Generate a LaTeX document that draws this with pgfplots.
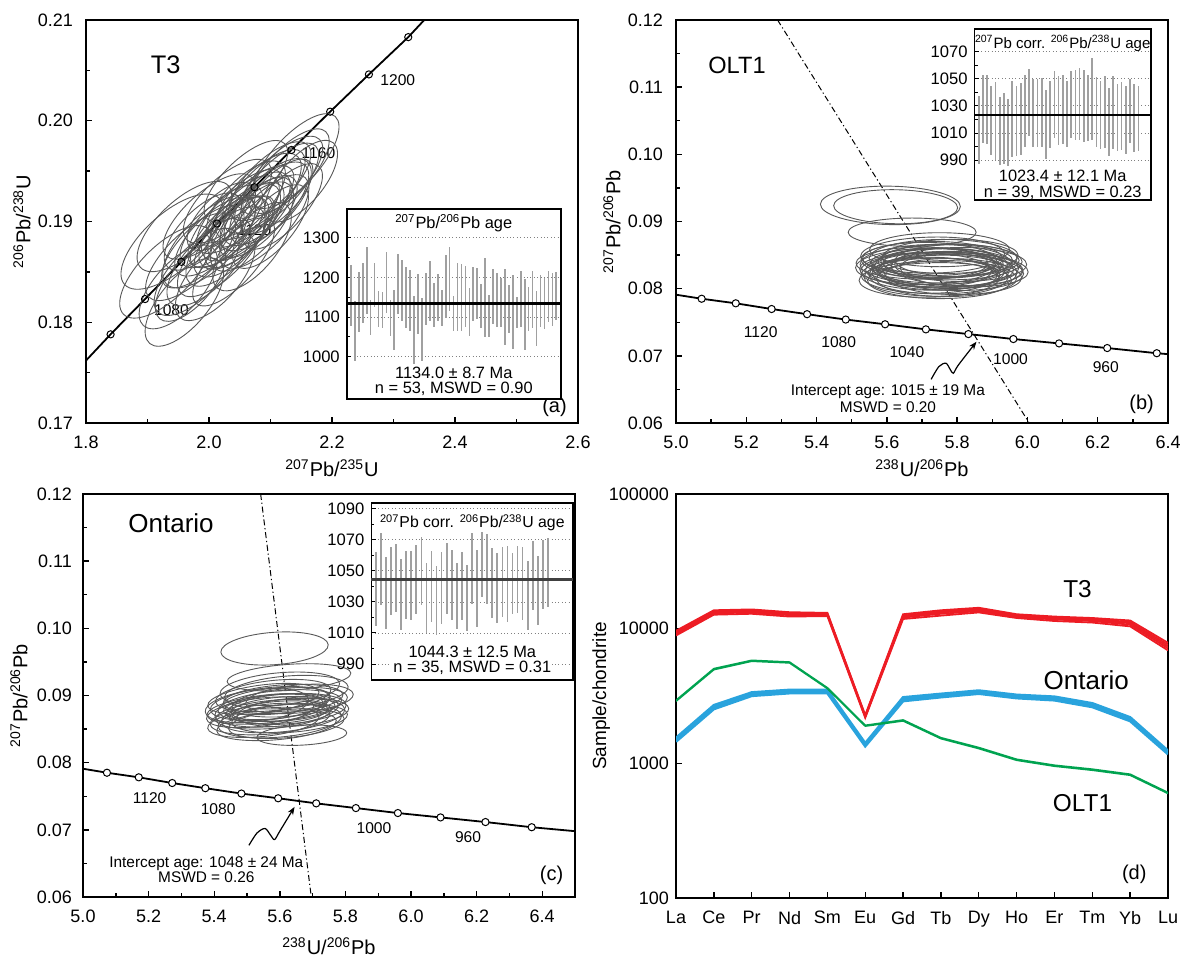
\documentclass[border=0pt]{standalone}
\usepackage{fontspec}
\setmainfont{Liberation Sans}
\usepackage{pgfplots}
\usepackage{pgfplotstable}
\pgfplotsset{compat=1.18}
\usetikzlibrary{arrows.meta}
\newcommand{\fs}[1]{\fontsize{#1}{#1}\selectfont}
\definecolor{ellg}{RGB}{88,88,88}
\definecolor{barg}{RGB}{160,160,160}
\definecolor{reeR}{RGB}{237,28,36}
\definecolor{reeB}{RGB}{41,163,221}
\definecolor{reeG}{RGB}{0,163,80}

\pgfdeclareplotmark{ell}{%
  \pgfpathellipse{\pgfpointorigin}%
    {\pgfpoint{\ellA*cos(\ellT)*1pt}{\ellA*sin(\ellT)*1pt}}%
    {\pgfpoint{-\ellB*sin(\ellT)*1pt}{\ellB*cos(\ellT)*1pt}}%
  \pgfusepathqstroke}

% ---------- ellipses (centre, semi-axes in pt, screen angle) ----------
\pgfplotstableread{
x y a b t
1.93 0.1850 30 13 45
1.95 0.1835 26 12 48
1.96 0.1820 27 12 50
1.97 0.1865 29 12 44
1.98 0.1850 28 12 46
1.99 0.1875 27 11 45
2.00 0.1860 28 12 47
2.01 0.1885 26 11 44
2.02 0.1870 29 12 46
2.02 0.1895 27 11 45
2.03 0.1880 28 12 48
2.04 0.1900 30 12 45
2.04 0.1885 26 11 46
2.05 0.1910 28 11 44
2.05 0.1895 27 12 47
2.06 0.1905 29 12 45
2.06 0.1920 26 11 46
2.07 0.1895 28 12 48
2.07 0.1915 27 11 44
2.08 0.1925 28 12 45
2.08 0.1905 26 11 47
2.09 0.1930 27 11 46
2.09 0.1915 29 12 45
2.10 0.1940 26 11 44
2.10 0.1920 27 12 47
2.11 0.1935 28 11 46
2.12 0.1945 26 11 45
2.13 0.1950 27 11 47
2.14 0.1960 30 12 48
1.94 0.1880 32 14 42
1.96 0.1895 30 13 43
2.00 0.1905 29 12 42
2.03 0.1920 28 12 43
2.06 0.1940 27 11 44
2.01 0.1845 27 12 49
2.04 0.1860 28 11 48
2.07 0.1875 27 12 50
2.10 0.1895 26 11 49
2.12 0.1915 27 11 48
2.02 0.1905 22 10 45
2.05 0.1890 23 10 46
2.08 0.1910 22 10 45
2.03 0.1890 24 10 44
2.06 0.1900 25 11 46
1.99 0.1890 25 11 45
2.11 0.1925 24 10 46
1.97 0.1840 24 11 50
2.15 0.1940 25 11 50
2.00 0.1880 30 13 45
2.09 0.1900 30 12 47
}\ellTa

\pgfplotstableread{
x y a b t
5.610 0.0924 35 9.6 -1
5.625 0.0922 31 8.5 -1
5.672 0.0884 32 7.1 0
5.75 0.0858 35 8.5 0
5.73 0.0850 36 9 1
5.76 0.0845 37 9.5 0
5.72 0.0842 34 9 -1
5.78 0.0840 36 9 0
5.74 0.0836 38 10 0
5.71 0.0833 35 9 1
5.77 0.0832 36 9.5 -1
5.75 0.0828 37 9 0
5.80 0.0830 33 8.5 -2
5.73 0.0826 36 9.5 0
5.76 0.0822 37 10 1
5.72 0.0820 34 9 0
5.79 0.0824 35 9 -1
5.74 0.0817 36 9.5 0
5.77 0.0815 35 9 0
5.71 0.0828 33 8.5 -1
5.81 0.0836 33 8.5 0
5.75 0.0812 36 9 0
5.78 0.0848 34 8.5 1
5.70 0.0838 33 8 0
5.76 0.0838 30 7.5 0
5.74 0.0830 32 8 0
5.79 0.0818 34 9 -1
5.73 0.0845 35 8.5 0
5.82 0.0828 32 8.5 -2
5.72 0.0814 35 9 1
5.77 0.0842 33 8 0
5.75 0.0834 34 8.5 1
5.78 0.0827 36 9 0
5.73 0.0838 31 7.5 0
5.76 0.0826 33 8 0
5.74 0.0822 32 8 -1
5.80 0.0842 31 8 0
}\ellOLT

\pgfplotstableread{
x y a b t
5.584 0.0970 26.9 8.1 4
5.628 0.0927 31 6.5 4
5.60 0.0910 30 8 5
5.58 0.0900 29 7.5 6
5.62 0.0905 31 8 5
5.55 0.0895 28 7 7
5.61 0.0895 30 7 4
5.57 0.0888 30 8 6
5.60 0.0885 31 7.5 5
5.63 0.0890 29 7 5
5.56 0.0880 30 7 6
5.59 0.0878 31 8 5
5.62 0.0880 30 7.5 4
5.58 0.0872 29 7 5
5.61 0.0870 31 8 6
5.54 0.0875 27 7 7
5.64 0.0875 28 7 4
5.57 0.0865 30 7.5 5
5.60 0.0862 31 8 5
5.63 0.0866 29 7 4
5.55 0.0860 28 7 6
5.59 0.0855 30 7 5
5.62 0.0858 29 7 5
5.58 0.0883 25 6 5
5.60 0.0875 24 5.5 4
5.667 0.0841 22.5 5 3
5.53 0.0885 26 8 7
5.66 0.0895 27 7 5
5.59 0.0892 27 6.5 5
5.61 0.0880 26 6 4
}\ellOnt

% ---------- Tera-Wasserburg concordia ----------
\pgfplotstableread{
x y
5.073 0.07850
5.170 0.07782
5.272 0.07697
5.373 0.07620
5.483 0.07540
5.595 0.07470
5.711 0.07394
5.832 0.07324
5.960 0.07250
6.090 0.07185
6.227 0.07116
6.368 0.07039
}\concTW

% ---------- weighted-mean bars ----------
\pgfplotstableread{
x lo hi
1 1078 1231
2 990 1141
3 1061 1214
4 1084 1237
5 1107 1277
6 1054 1143
7 1126 1237
8 1074 1166
9 1072 1163
10 1111 1264
11 1053 1142
12 1017 1169
13 1107 1258
14 1089 1243
15 1072 1226
16 1064 1218
17 981 1154
18 1057 1209
19 990 1147
20 1080 1211
21 1089 1241
22 1074 1186
23 1090 1208
24 1078 1169
25 1097 1256
26 1114 1277
27 1064 1154
28 1064 1235
29 1064 1233
30 1074 1228
31 1053 1173
32 1090 1225
33 1094 1223
34 1072 1183
35 1049 1249
36 1050 1156
37 1082 1220
38 1074 1211
39 1074 1199
40 1030 1222
41 1060 1180
42 1020 1206
43 1072 1150
44 1075 1215
45 1018 1196
46 1066 1176
47 1072 1217
48 1026 1165
49 1075 1205
50 1070 1199
51 1088 1217
52 1078 1210
53 1092 1214
}\barsA

\pgfplotstableread{
x lo hi
1 987 1037
2 1003 1053
3 1002 1053
4 994 1044.5
5 990 1047.5
6 986.6 1036.6
7 987 1039.6
8 985.6 1035
9 992 1048.7
10 993 1044.5
11 994 1047
12 1000 1053
13 1008 1057
14 1000 1050
15 999.5 1049.5
16 999.5 1050.7
17 991 1041.5
18 998.7 1048
19 1006 1056
20 1001.4 1051.7
21 1002 1052.7
22 999.5 1048.7
23 1006 1056
24 1005 1056.6
25 1005 1057.6
26 1003.7 1056.4
27 1004.4 1052.7
28 1005 1065
29 1000 1051
30 998 1048
31 998.7 1052
32 993 1043.5
33 998 1052
34 996.7 1046.5
35 997.5 1047.7
36 994.5 1044.5
37 1002.4 1050
38 995.7 1046.5
39 997 1045
}\barsB

\pgfplotstableread{
x lo hi
1 1014.8 1061.9
2 1027.8 1074.2
3 1012.7 1058.7
4 1021.8 1065.6
5 1023.5 1067.1
6 1012.2 1057.4
7 1018.7 1063
8 1018.1 1062.8
9 1022.4 1066.7
10 1027.8 1072.1
11 1010.1 1054.8
12 1017.4 1062.8
13 1008.4 1053.3
14 1015.9 1061.9
15 1022.4 1068.2
16 1018.5 1063.4
17 1012.7 1055.4
18 1018.1 1062.4
19 1011.6 1053.7
20 1028.9 1074.2
21 1013.8 1063.4
22 1033.2 1080
23 1028.9 1073.8
24 1019.5 1064.8
25 1016.3 1061.6
26 1020.6 1065.4
27 1017.4 1066.3
28 1022.3 1061.6
29 1022.8 1065.9
30 1018.4 1065.4
31 1012 1056.2
32 1024.9 1069.5
33 1015.2 1059.8
34 1025.3 1069.7
35 1027 1071.2
}\barsC

\pgfplotsset{
  mainax/.style={
    scale only axis, width=246pt, height=201.5pt, anchor=south west,
    axis line style={line width=1.1pt},
    tick align=inside, xtick pos=bottom, ytick pos=left,
    tick style={black, line width=0.7pt},
    major tick length=3.2pt, minor tick length=2pt,
    minor tick num=1, scaled ticks=false,
    tick label style={font=\fs{9}},
    /pgf/number format/assume math mode=true,
    xticklabel style={yshift=-3pt},
    every axis x label/.style={at={(axis description cs:0.5,-0.112)}, anchor=center, font=\fs{10}},
    every axis y label/.style={at={(axis description cs:-0.13,0.5)}, rotate=90, anchor=center, font=\fs{10}},
  },
  xfmt1/.style={x tick label style={/pgf/number format/fixed, /pgf/number format/fixed zerofill, /pgf/number format/precision=1}},
  yfmt2/.style={y tick label style={/pgf/number format/fixed, /pgf/number format/fixed zerofill, /pgf/number format/precision=2}},
  inax/.style={
    scale only axis, anchor=south west, clip=false,
    axis background/.style={fill=white},
    axis line style={line width=0.8pt},
    xtick=\empty, ytick pos=left, tick align=inside,
    tick style={black, line width=0.5pt},
    major tick length=2.2pt, minor tick length=1.5pt, minor y tick num=1,
    ymajorgrids, major grid style={gray, line width=0.45pt, dash pattern=on 0.5pt off 1.2pt},
    tick label style={font=\fs{8.3}},
    /pgf/number format/assume math mode=true, /pgf/number format/1000 sep={},
  },
  ellstyle/.style={scatter, only marks, mark=ell, color=ellg,
    mark options={line width=0.45pt, solid},
    scatter/@pre marker code/.code={}, scatter/@post marker code/.code={},
    visualization depends on={\thisrow{a}\as\ellA},
    visualization depends on={\thisrow{b}\as\ellB},
    visualization depends on={\thisrow{t}\as\ellT}},
  bars/.style={mark=none, draw=none, forget plot,
    error bars/y dir=both, error bars/y explicit, error bars/error mark=none,
    error bars/error bar style={draw=barg, line width=0.85pt, solid}},
  conc/.style={black, line width=0.9pt},
  concmk/.style={only marks, mark=*, mark size=1.8pt, mark options={fill=white, draw=black, line width=0.5pt}},
  disc/.style={black, line width=0.5pt, dash pattern=on 3pt off 1.4pt on 0.6pt off 1.4pt},
}

\begin{document}
\begin{tikzpicture}
% ================= (a) =================
\begin{axis}[mainax, xfmt1, yfmt2, at={(43pt,268pt)},
  xmin=1.8, xmax=2.6, ymin=0.17, ymax=0.21,
  xtick={1.8,2.0,2.2,2.4,2.6}, ytick={0.17,0.18,0.19,0.20,0.21},
  yticklabel style={xshift=-3pt},
  xlabel={\textsuperscript{207}Pb/\textsuperscript{235}U},
  ylabel={\textsuperscript{206}Pb/\textsuperscript{238}U}]
\addplot[ellstyle] table[x=x, y=y] {\ellTa};
\addplot[conc] coordinates {(1.8,0.1762)(1.840,0.1788)(1.896,0.1823)(1.955,0.1860)(2.013,0.1898)(2.074,0.1934)(2.134,0.1971)(2.197,0.2009)(2.260,0.2046)(2.324,0.2083)(2.35,0.2100)};
\addplot[only marks, mark=o, mark size=1.8pt, black, mark options={line width=0.5pt}] coordinates {(1.840,0.1788)(1.896,0.1823)(1.955,0.1860)(2.013,0.1898)(2.074,0.1934)(2.134,0.1971)(2.197,0.2009)(2.260,0.2046)(2.324,0.2083)};
\node[font=\fs{7.8}] at (axis cs:1.939,0.1812) {1080};
\node[font=\fs{7.8}] at (axis cs:2.074,0.1891) {1120};
\node[font=\fs{7.8}] at (axis cs:2.178,0.1968) {1160};
\node[font=\fs{7.8}] at (axis cs:2.307,0.2040) {1200};
\node[font=\fs{12.7}] at (rel axis cs:0.162,0.888) {T3};
\node[font=\fs{10}, anchor=south east, inner sep=0pt] at (rel axis cs:0.978,0.014) {(a)};
\end{axis}

\begin{axis}[inax, at={(173.4pt,280.1pt)}, width=107pt, height=94.9pt,
  xmin=-0.03, xmax=54.14, ymin=894, ymax=1372,
  ytick={1000,1100,1200,1300}]
\addplot[bars] table[x=x, y expr={(\thisrow{lo}+\thisrow{hi})/2}, y error expr={(\thisrow{hi}-\thisrow{lo})/2}] {\barsA};
\addplot[black, line width=1.3pt] coordinates {(-0.03,1134)(54.14,1134)};
\node[font=\fs{8.2}] at (rel axis cs:0.5,0.925) {\textsuperscript{207}Pb/\textsuperscript{206}Pb age};
\node[font=\fs{8.2}] at (rel axis cs:0.5,0.135) {1134.0 ± 8.7 Ma};
\node[font=\fs{8.2}] at (rel axis cs:0.5,0.052) {n = 53, MSWD = 0.90};
\end{axis}

% ================= (b) =================
\begin{axis}[mainax, xfmt1, yfmt2, at={(338pt,268pt)},
  xmin=5.0, xmax=6.4, ymin=0.06, ymax=0.12,
  xtick={5.0,5.2,5.4,5.6,5.8,6.0,6.2,6.4}, ytick={0.06,0.07,0.08,0.09,0.10,0.11,0.12},
  yticklabel style={xshift=-3pt},
  xlabel={\textsuperscript{238}U/\textsuperscript{206}Pb},
  ylabel={\textsuperscript{207}Pb/\textsuperscript{206}Pb}]
\addplot[ellstyle] table[x=x, y=y] {\ellOLT};
\addplot[disc] coordinates {(5.289,0.12)(6.005,0.06)};
\addplot[conc] coordinates {(5.0,0.0791)(5.073,0.07850)(5.170,0.07782)(5.272,0.07697)(5.373,0.07620)(5.483,0.07540)(5.595,0.07470)(5.711,0.07394)(5.832,0.07324)(5.960,0.07250)(6.090,0.07185)(6.227,0.07116)(6.368,0.07039)(6.4,0.07025)};
\addplot[concmk] table[x=x, y=y] {\concTW};
\node[font=\fs{7.8}] at (axis cs:5.241,0.07346) {1120};
\node[font=\fs{7.8}] at (axis cs:5.463,0.07197) {1080};
\node[font=\fs{7.8}] at (axis cs:5.657,0.07058) {1040};
\node[font=\fs{7.8}] at (axis cs:5.952,0.06944) {1000};
\node[font=\fs{7.8}] at (axis cs:6.223,0.06834) {960};
\addplot[black, line width=0.6pt, smooth, -{Stealth[length=4pt, width=3pt]}] coordinates {(5.726,0.0665)(5.748,0.0684)(5.768,0.0689)(5.780,0.0680)(5.789,0.0674)(5.803,0.0686)(5.855,0.0721)};
\node[font=\fs{7.7}] at (axis cs:5.603,0.06462) {Intercept age: 1015 ± 19 Ma};
\node[font=\fs{7.7}] at (axis cs:5.603,0.06228) {MSWD = 0.20};
\node[font=\fs{11.8}] at (rel axis cs:0.124,0.888) {OLT1};
\node[font=\fs{10}, anchor=south east, inner sep=0pt] at (rel axis cs:0.972,0.023) {(b)};
\end{axis}

\begin{axis}[inax, at={(487.3pt,379.4pt)}, width=88.1pt, height=85.6pt,
  xmin=0.04, xmax=41.94, ymin=960.5, ymax=1086.7,
  ytick={990,1010,1030,1050,1070}]
\addplot[bars] table[x=x, y expr={(\thisrow{lo}+\thisrow{hi})/2}, y error expr={(\thisrow{hi}-\thisrow{lo})/2}] {\barsB};
\addplot[black, line width=1.3pt] coordinates {(0.04,1023.4)(41.94,1023.4)};
\node[font=\fs{7.5}, inner sep=0pt] at (rel axis cs:0.5,0.918) {\textsuperscript{207}Pb corr. \textsuperscript{206}Pb/\textsuperscript{238}U age};
\node[font=\fs{8.2}] at (rel axis cs:0.5,0.14) {1023.4 ± 12.1 Ma};
\node[font=\fs{8.2}] at (rel axis cs:0.5,0.045) {n = 39, MSWD = 0.23};
\end{axis}

% ================= (c) =================
\begin{axis}[mainax, xfmt1, yfmt2, at={(41.5pt,31pt)},
  xmin=5.0, xmax=6.5, ymin=0.06, ymax=0.12,
  xtick={5.0,5.2,5.4,5.6,5.8,6.0,6.2,6.4}, ytick={0.06,0.07,0.08,0.09,0.10,0.11,0.12},
  yticklabel style={xshift=-2pt},
  every axis x label/.style={at={(axis description cs:0.5,-0.122)}, anchor=center, font=\fs{10}},
  xlabel={\textsuperscript{238}U/\textsuperscript{206}Pb},
  ylabel={\textsuperscript{207}Pb/\textsuperscript{206}Pb}]
\addplot[ellstyle] table[x=x, y=y] {\ellOnt};
\addplot[disc] coordinates {(5.5416,0.12)(5.696,0.06)};
\addplot[conc] coordinates {(5.0,0.0791)(5.073,0.07850)(5.170,0.07782)(5.272,0.07697)(5.373,0.07620)(5.483,0.07540)(5.595,0.07470)(5.711,0.07394)(5.832,0.07324)(5.960,0.07250)(6.090,0.07185)(6.227,0.07116)(6.368,0.07039)(6.5,0.0698)};
\addplot[concmk] table[x=x, y=y] {\concTW};
\node[font=\fs{7.8}] at (axis cs:5.203,0.07466) {1120};
\node[font=\fs{7.8}] at (axis cs:5.412,0.07307) {1080};
\node[font=\fs{7.8}] at (axis cs:5.887,0.07029) {1000};
\node[font=\fs{7.8}] at (axis cs:6.174,0.06885) {960};
\addplot[black, line width=0.6pt, smooth, -{Stealth[length=4pt, width=3pt]}] coordinates {(5.506,0.0677)(5.530,0.0695)(5.555,0.0702)(5.572,0.0692)(5.584,0.06855)(5.600,0.0698)(5.645,0.07342)};
\node[font=\fs{7.7}] at (axis cs:5.376,0.06497) {Intercept age: 1048 ± 24 Ma};
\node[font=\fs{7.7}] at (axis cs:5.376,0.06288) {MSWD = 0.26};
\node[font=\fs{13}] at (rel axis cs:0.179,0.928) {Ontario};
\node[font=\fs{10}, anchor=south east, inner sep=0pt] at (rel axis cs:0.977,0.029) {(c)};
\end{axis}

\begin{axis}[inax, at={(185.7pt,139.5pt)}, width=100.9pt, height=88.6pt,
  xmin=0.12, xmax=40.0, ymin=979.7, ymax=1093.9,
  ytick={990,1010,1030,1050,1070,1090}]
\addplot[bars] table[x=x, y expr={(\thisrow{lo}+\thisrow{hi})/2}, y error expr={(\thisrow{hi}-\thisrow{lo})/2}] {\barsC};
\addplot[black!75, line width=1.3pt] coordinates {(0.12,1044.3)(40.0,1044.3)};
\node[font=\fs{7.9}, fill=white, inner sep=0.6pt] at (rel axis cs:0.5,0.887) {\textsuperscript{207}Pb corr. \textsuperscript{206}Pb/\textsuperscript{238}U age};
\node[font=\fs{8.2}, fill=white, inner sep=0.6pt] at (rel axis cs:0.5,0.16) {1044.3 ± 12.5 Ma};
\node[font=\fs{8.2}, fill=white, inner sep=0.6pt] at (rel axis cs:0.5,0.066) {n = 35, MSWD = 0.31};
\end{axis}

% ================= (d) =================
\begin{axis}[mainax, at={(338pt,30.5pt)}, height=202pt,
  ymode=log, xmin=0, xmax=13, ymin=100, ymax=100000,
  minor tick num=0, yminorticks=false, xminorticks=false,
  xtick={0,1,2,3,4,5,6,7,8,9,10,11,12,13},
  xticklabels={La,Ce,Pr,Nd,Sm,Eu,Gd,Tb,Dy,Ho,Er,Tm,Yb,Lu},
  ytick={100,1000,10000,100000}, yticklabels={100,1000,10000,100000},
  every axis y label/.style={at={(axis description cs:-0.152,0.5)}, rotate=90, anchor=center, font=\fs{9.5}},
  ylabel={Sample/chondrite}]
% T3
\addplot[reeR, line width=0.9pt] coordinates {(0,8900)(1,12700)(2,12900)(3,12300)(4,12400)(5,2180)(6,11800)(7,12500)(8,13200)(9,12000)(10,11400)(11,11100)(12,10400)(13,6900)};
\addplot[reeR, line width=0.9pt] coordinates {(0,9100)(1,13000)(2,13200)(3,12600)(4,12650)(5,2210)(6,12100)(7,12900)(8,13500)(9,12250)(10,11700)(11,11400)(12,10700)(13,7150)};
\addplot[reeR, line width=0.9pt] coordinates {(0,9250)(1,13200)(2,13400)(3,12800)(4,12800)(5,2230)(6,12300)(7,13200)(8,13800)(9,12450)(10,11960)(11,11610)(12,10980)(13,7370)};
\addplot[reeR, line width=0.9pt] coordinates {(0,9400)(1,13400)(2,13600)(3,13000)(4,12950)(5,2250)(6,12500)(7,13400)(8,14000)(9,12600)(10,12100)(11,11800)(12,11200)(13,7600)};
\addplot[reeR, line width=0.9pt] coordinates {(0,9650)(1,13700)(2,13900)(3,13250)(4,13100)(5,2280)(6,12800)(7,13700)(8,14300)(9,12800)(10,12300)(11,12000)(12,11500)(13,7850)};
% Ontario
\addplot[reeB, line width=1.3pt] coordinates {(0,1450)(1,2530)(2,3170)(3,3320)(4,3320)(5,1340)(6,2900)(7,3100)(8,3290)(9,3050)(10,2940)(11,2620)(12,2060)(13,1170)};
\addplot[reeB, line width=1.3pt] coordinates {(0,1497)(1,2615)(2,3263)(3,3415)(4,3415)(5,1374)(6,2997)(7,3190)(8,3380)(9,3137)(10,3032)(11,2705)(12,2128)(13,1205)};
\addplot[reeB, line width=1.3pt] coordinates {(0,1545)(1,2700)(2,3360)(3,3510)(4,3510)(5,1410)(6,3090)(7,3280)(8,3470)(9,3225)(10,3125)(11,2790)(12,2195)(13,1240)};
% OLT1
\addplot[reeG, line width=0.8pt] coordinates {(0,2890)(1,4960)(2,5730)(3,5570)(4,3590)(5,1890)(6,2065)(7,1525)(8,1287)(9,1054)(10,952)(11,889)(12,816)(13,597)};
\addplot[reeG, line width=0.8pt] coordinates {(0,2940)(1,5050)(2,5820)(3,5650)(4,3640)(5,1915)(6,2100)(7,1550)(8,1310)(9,1072)(10,968)(11,905)(12,830)(13,607)};
\node[font=\fs{12.2}] at (axis cs:10.61,19640) {T3};
\node[font=\fs{13}] at (axis cs:10.84,4170) {Ontario};
\node[font=\fs{12.2}] at (axis cs:10.74,507) {OLT1};
\node[font=\fs{10}, anchor=south east, inner sep=0pt] at (rel axis cs:0.957,0.035) {(d)};
\end{axis}

\pgfresetboundingbox
\path[use as bounding box] (0pt,0pt) rectangle (591pt,479.5pt);
\end{tikzpicture}
\end{document}
